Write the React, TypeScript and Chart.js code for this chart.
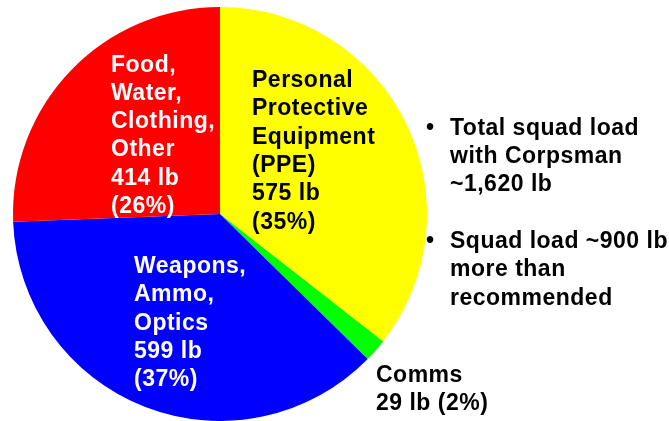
import React, { useEffect, useRef } from "react";
import { Chart, registerables } from "chart.js";

Chart.register(...registerables);

// Slices clockwise from 12 o'clock
const categories = ["Personal Protective Equipment (PPE)", "Comms", "Weapons, Ammo, Optics", "Food, Water, Clothing, Other"];
// Load weights in lb
const weightsLb = [575, 29, 599, 414];
const percentShares = [35, 2, 37, 26];
const sliceColors = ["#FFFF00", "#00FF00", "#0000FF", "#FF0000"];
const bulletLines1 = ["Total squad load", "with Corpsman", "~1,620 lb"];
const bulletLines2 = ["Squad load ~900 lb", "more than", "recommended"];

const FONT = '"Liberation Sans", Arial, sans-serif';
const LH = 28.3;

const textBase: React.CSSProperties = {
  position: "absolute",
  fontFamily: FONT,
  fontWeight: 700,
  fontSize: "23px",
  letterSpacing: "0.5px",
  lineHeight: LH + "px",
  whiteSpace: "nowrap",
  margin: 0,
};

function Lines({ lines }: { lines: string[] }) {
  return (
    <>
      {lines.map((l, i) => (
        <div key={i}>{l}</div>
      ))}
    </>
  );
}

const lb = (i: number) => weightsLb[i] + " lb";
const pct = (i: number) => "(" + percentShares[i] + "%)";

export default function App() {
  const ref = useRef<HTMLCanvasElement | null>(null);

  useEffect(() => {
    document.body.style.margin = "0";
    const canvas = ref.current;
    if (!canvas) return;
    const chart = new Chart(canvas, {
      type: "pie",
      data: {
        labels: categories,
        datasets: [
          {
            data: weightsLb,
            backgroundColor: sliceColors,
            borderWidth: 0,
          },
        ],
      },
      options: {
        responsive: false,
        animation: false,
        rotation: 0,
        layout: { padding: { left: 13, right: 242, top: 7, bottom: 0 } },
        plugins: {
          legend: { display: false },
          tooltip: { enabled: false },
        },
      },
    });
    return () => chart.destroy();
  }, []);

  return (
    <div style={{ position: "fixed", left: 0, top: 0, width: 669, height: 421, background: "#fff", overflow: "hidden" }}>
      <canvas ref={ref} width={669} height={421} style={{ position: "absolute", left: 0, top: 0 }} />
      {/* PPE */}
      <div style={{ ...textBase, left: 252, top: 65.2, color: "#000" }}>
        <Lines lines={["Personal", "Protective", "Equipment", "(PPE)", lb(0), pct(0)]} />
      </div>
      {/* Food */}
      <div style={{ ...textBase, left: 111, top: 49.6, color: "#fff" }}>
        <Lines lines={["Food,", "Water,", "Clothing,", "Other", lb(3), pct(3)]} />
      </div>
      {/* Weapons */}
      <div style={{ ...textBase, left: 134, top: 251.2, color: "#fff" }}>
        <Lines lines={["Weapons,", "Ammo,", "Optics", lb(2), pct(2)]} />
      </div>
      {/* Comms */}
      <div style={{ ...textBase, left: 376, top: 359.6, color: "#000" }}>
        <Lines lines={["Comms", lb(1) + " " + pct(1)]} />
      </div>
      {/* Bullets */}
      <div style={{ ...textBase, left: 426, top: 112.9, color: "#000" }}>•</div>
      <div style={{ ...textBase, left: 450, top: 112.9, color: "#000" }}>
        <Lines lines={bulletLines1} />
      </div>
      <div style={{ ...textBase, left: 426, top: 226.2, color: "#000" }}>•</div>
      <div style={{ ...textBase, left: 450, top: 226.2, color: "#000" }}>
        <Lines lines={bulletLines2} />
      </div>
    </div>
  );
}
